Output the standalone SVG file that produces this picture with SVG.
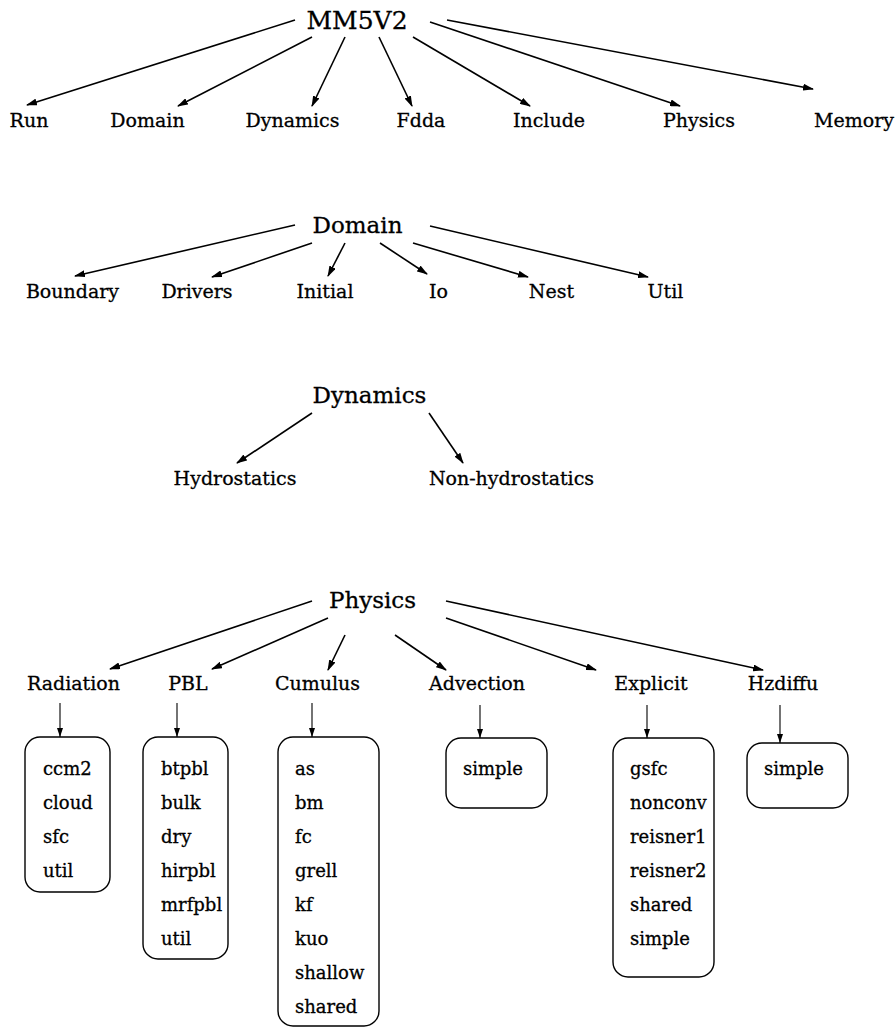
<svg xmlns="http://www.w3.org/2000/svg" width="896" height="1028" viewBox="0 0 896 1028">
<style>
.t{font-family:"DejaVu Serif","Liberation Serif",serif;font-size:23px;fill:#000;stroke:#000;stroke-width:0.3;text-anchor:middle}
.l{font-family:"DejaVu Serif","Liberation Serif",serif;font-size:19px;fill:#000;stroke:#000;stroke-width:0.3;text-anchor:middle}
.b{font-family:"DejaVu Serif","Liberation Serif",serif;font-size:18px;fill:#000;stroke:#000;stroke-width:0.3}
.e{stroke:#000;stroke-width:1.6;fill:none;marker-end:url(#ah)}
.v{stroke:#000;stroke-width:1.1;fill:none;marker-end:url(#as)}
.bx{fill:none;stroke:#000;stroke-width:1.4}
</style>
<defs>
<marker id="ah" markerUnits="userSpaceOnUse" markerWidth="11" markerHeight="7" refX="10" refY="3.5" orient="auto"><path d="M0,0 L11,3.5 L0,7 z" fill="#000"/></marker>
<marker id="as" markerUnits="userSpaceOnUse" markerWidth="9" markerHeight="7" refX="9" refY="3" orient="auto"><path d="M0,0 L9,3 L0,6 z" fill="#000"/></marker>
</defs>
<rect width="896" height="1028" fill="#fff"/>
<g id="connectors">
<line class="e" x1="295" y1="20" x2="27" y2="105"/>
<line class="e" x1="312" y1="37" x2="178" y2="106"/>
<line class="e" x1="345" y1="37" x2="312" y2="106"/>
<line class="e" x1="379" y1="37" x2="412" y2="106"/>
<line class="e" x1="413" y1="37" x2="530" y2="106"/>
<line class="e" x1="430" y1="22" x2="680" y2="106"/>
<line class="e" x1="447" y1="20" x2="813" y2="89"/>
<line class="e" x1="295" y1="225" x2="75" y2="276"/>
<line class="e" x1="312" y1="243" x2="212" y2="277"/>
<line class="e" x1="345" y1="243" x2="328" y2="276"/>
<line class="e" x1="380" y1="243" x2="427" y2="274"/>
<line class="e" x1="413" y1="243" x2="528" y2="277"/>
<line class="e" x1="430" y1="226" x2="648" y2="277"/>
<line class="e" x1="312" y1="413" x2="237" y2="463"/>
<line class="e" x1="429" y1="413" x2="463" y2="463"/>
<line class="e" x1="312" y1="601" x2="110" y2="669"/>
<line class="e" x1="328" y1="618" x2="212" y2="669"/>
<line class="e" x1="345" y1="635" x2="328" y2="670"/>
<line class="e" x1="395" y1="635" x2="446" y2="670"/>
<line class="e" x1="446" y1="618" x2="596" y2="670"/>
<line class="e" x1="446" y1="601" x2="763" y2="670"/>
<line class="v" x1="60" y1="703" x2="60" y2="737"/>
<line class="v" x1="177" y1="703" x2="177" y2="737"/>
<line class="v" x1="312" y1="703" x2="312" y2="737"/>
<line class="v" x1="480" y1="705" x2="480" y2="738"/>
<line class="v" x1="647" y1="705" x2="647" y2="738"/>
<line class="v" x1="780" y1="705" x2="780" y2="743"/>
</g>
<g id="mm5v2"><text class="t" x="357" y="29" style="font-size:25px">MM5V2</text></g>
<g id="run"><text class="l" x="29" y="127">Run</text></g>
<g id="domain"><text class="l" x="147.5" y="127">Domain</text></g>
<g id="dynamics"><text class="l" x="292.5" y="127">Dynamics</text></g>
<g id="fdda"><text class="l" x="421" y="127">Fdda</text></g>
<g id="include"><text class="l" x="549" y="127">Include</text></g>
<g id="physics"><text class="l" x="699" y="127">Physics</text></g>
<g id="memory"><text class="l" x="854" y="127">Memory</text></g>

<g id="domain-root"><text class="t" x="357.5" y="233">Domain</text></g>
<g id="boundary"><text class="l" x="72.5" y="298">Boundary</text></g>
<g id="drivers"><text class="l" x="197" y="298">Drivers</text></g>
<g id="initial"><text class="l" x="325" y="298">Initial</text></g>
<g id="io"><text class="l" x="438.5" y="298">Io</text></g>
<g id="nest"><text class="l" x="551.5" y="298">Nest</text></g>
<g id="util"><text class="l" x="665.5" y="298">Util</text></g>

<g id="dynamics-root"><text class="t" x="369.5" y="403">Dynamics</text></g>
<g id="hydrostatics"><text class="l" x="235" y="485">Hydrostatics</text></g>
<g id="non-hydrostatics"><text class="l" x="511.5" y="485">Non-hydrostatics</text></g>

<g id="physics-root"><text class="t" x="372.5" y="608">Physics</text></g>
<g id="radiation"><text class="l" x="73.5" y="690">Radiation</text></g>
<g id="pbl"><text class="l" x="188" y="690">PBL</text></g>
<g id="cumulus"><text class="l" x="317.5" y="690">Cumulus</text></g>
<g id="advection"><text class="l" x="477" y="690">Advection</text></g>
<g id="explicit"><text class="l" x="651" y="690">Explicit</text></g>
<g id="hzdiffu"><text class="l" x="783" y="690">Hzdiffu</text></g>

<g id="radiation-box"><rect class="bx" x="25" y="737" width="85" height="155" rx="15"/>
<text class="b" x="43" y="775">ccm2</text><text class="b" x="43" y="809">cloud</text><text class="b" x="43" y="843">sfc</text><text class="b" x="43" y="877">util</text></g>
<g id="pbl-box"><rect class="bx" x="143" y="737" width="85" height="222" rx="15"/>
<text class="b" x="161" y="775">btpbl</text><text class="b" x="161" y="809">bulk</text><text class="b" x="161" y="843">dry</text><text class="b" x="161" y="877">hirpbl</text><text class="b" x="161" y="911">mrfpbl</text><text class="b" x="161" y="945">util</text></g>
<g id="cumulus-box"><rect class="bx" x="278" y="737" width="101" height="289" rx="15"/>
<text class="b" x="295" y="775">as</text><text class="b" x="295" y="809">bm</text><text class="b" x="295" y="843">fc</text><text class="b" x="295" y="877">grell</text><text class="b" x="295" y="911">kf</text><text class="b" x="295" y="945">kuo</text><text class="b" x="295" y="979">shallow</text><text class="b" x="295" y="1013">shared</text></g>
<g id="advection-box"><rect class="bx" x="446" y="738" width="101" height="70" rx="15"/>
<text class="b" x="463" y="775">simple</text></g>
<g id="explicit-box"><rect class="bx" x="613" y="738" width="101" height="239" rx="15"/>
<text class="b" x="630" y="775">gsfc</text><text class="b" x="630" y="809">nonconv</text><text class="b" x="630" y="843">reisner1</text><text class="b" x="630" y="877">reisner2</text><text class="b" x="630" y="911">shared</text><text class="b" x="630" y="945">simple</text></g>
<g id="hzdiffu-box"><rect class="bx" x="747" y="743" width="101" height="65" rx="15"/>
<text class="b" x="764" y="775">simple</text></g>
</svg>
